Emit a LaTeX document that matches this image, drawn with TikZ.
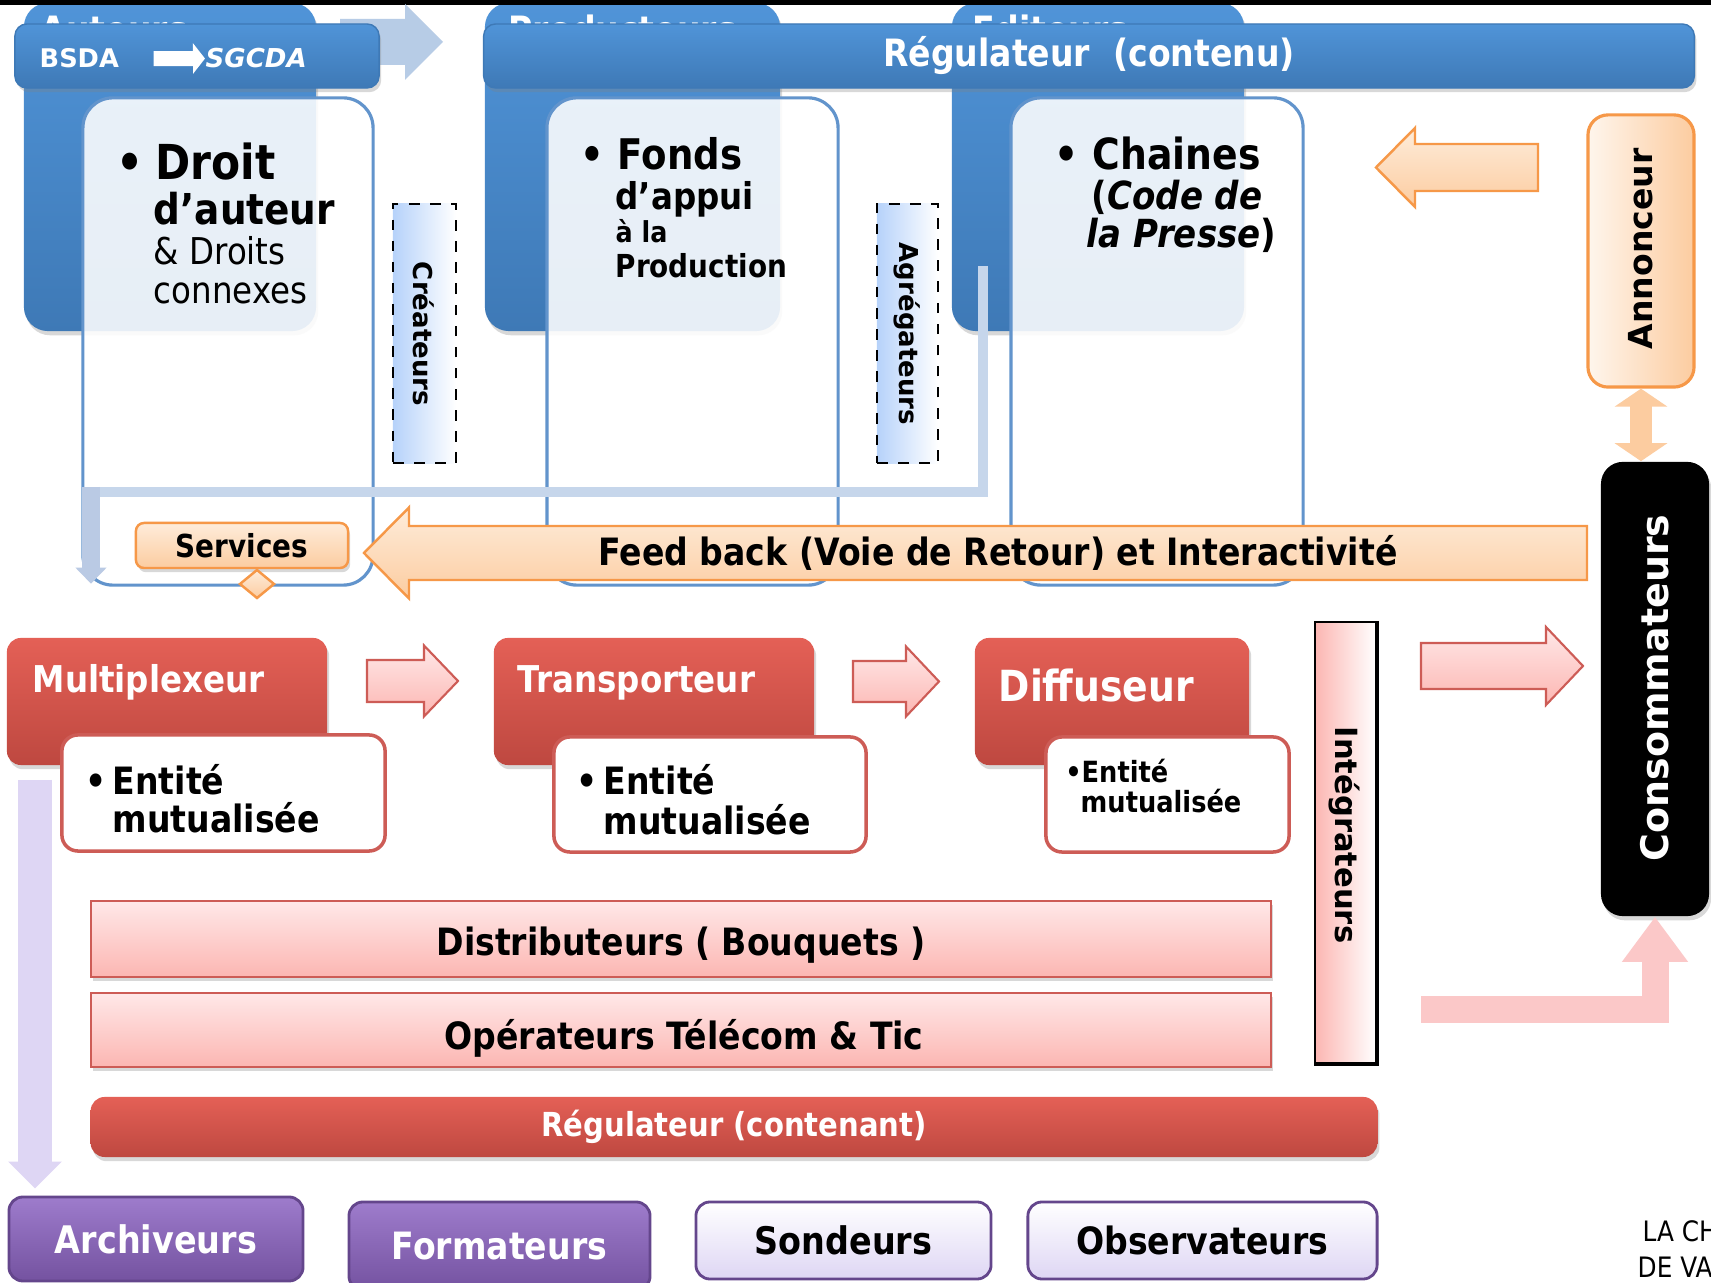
\documentclass[tikz,border=0pt]{standalone}
\usepackage{fontspec}
\setmainfont{DejaVu Sans}
\newfontfamily\tahoma{DejaVu Sans}[FakeStretch=0.88]
\usepackage{tikz}
\usetikzlibrary{arrows.meta,backgrounds,shadows}
\definecolor{bleuhaut}{RGB}{80,148,216}
\definecolor{bleubas}{RGB}{62,121,182}
\definecolor{bleucadre}{RGB}{98,148,204}
\definecolor{bleuclair}{RGB}{198,214,235}
\definecolor{bleugris}{RGB}{186,202,228}
\definecolor{bleupale}{RGB}{182,210,250}
\definecolor{rougehaut}{RGB}{228,96,86}
\definecolor{rougebas}{RGB}{190,72,64}
\definecolor{rougetrait}{RGB}{205,92,86}
\definecolor{rosehaut}{RGB}{255,232,232}
\definecolor{rosebas}{RGB}{252,182,178}
\definecolor{roseplein}{RGB}{251,200,200}
\definecolor{orangehaut}{RGB}{254,236,218}
\definecolor{orangebas}{RGB}{252,204,160}
\definecolor{orangetrait}{RGB}{246,152,72}
\definecolor{violethaut}{RGB}{158,124,204}
\definecolor{violetbas}{RGB}{116,82,160}
\definecolor{violettrait}{RGB}{100,70,140}
\definecolor{lavande}{RGB}{222,214,244}
\newcommand{\tah}[1]{\tahoma\bfseries\fontsize{#1}{#1}\selectfont}
\newcommand{\tahr}[1]{\tahoma\mdseries\fontsize{#1}{#1}\selectfont}
\newcommand{\ver}[1]{\bfseries\fontsize{#1}{#1}\selectfont}
\newcommand{\blocfleche}[7]{\path[#1] (#2,#5-#6) -- (#3,#5-#6) -- (#3,#5-#7) -- (#4,#5) -- (#3,#5+#7) -- (#3,#5+#6) -- (#2,#5+#6) -- cycle;}

\begin{document}
\begin{tikzpicture}[x=0.01cm,y=-0.01cm,
            every node/.style={inner sep=0pt},
            ombre/.style={drop shadow={opacity=0.3,shadow xshift=0.6pt,shadow yshift=-1.2pt}},
            bleu/.style={rounded corners=0.24cm,top color=bleuhaut,bottom color=bleubas,ombre},
            barre/.style={rounded corners=0.12cm,top color=bleuhaut,bottom color=bleubas,draw=bleubas,ombre},
            cadre/.style={rounded corners=0.3cm,draw=bleucadre,line width=0.9pt,fill=white,fill opacity=0.88},
            pointille/.style={draw,dashed,line width=0.6pt,left color=bleupale,right color=white},
            lien/.style={draw=bleuclair,line width=0.1cm},
            flecheorange/.style={top color=orangehaut,bottom color=orangebas,draw=orangetrait,line width=0.7pt},
            boiterouge/.style={rounded corners=0.14cm,top color=rougehaut,bottom color=rougebas,ombre},
            entite/.style={rounded corners=0.16cm,fill=white,draw=rougetrait,line width=1pt},
            flecherose/.style={top color=rosehaut,bottom color=rosebas,draw=rougetrait,line width=0.6pt},
            barrerose/.style={flecherose,ombre},
            boiteviolette/.style={rounded corners=0.14cm,top color=violethaut,bottom color=violetbas,draw=violettrait,line width=0.8pt,text=white},
            boitelavande/.style={rounded corners=0.14cm,top color=white,bottom color=lavande,draw=violettrait,line width=0.8pt}
            ]
            \useasboundingbox (0,0) rectangle (1711,1283);
            \clip (0,0) rectangle (1711,1283);

            % Background
            \begin{scope}[on background layer]
                \fill[white] (0,0) rectangle (1711,1283);
                \node[bleu,minimum width=2.92cm,minimum height=3.28cm] (auteurs)     at (170,167)   {};
                \node[bleu,minimum width=2.95cm,minimum height=3.28cm] (producteurs) at (632.5,167) {};
                \node[bleu,minimum width=2.92cm,minimum height=3.28cm] (editeurs)    at (1098,167)  {};
                \node[anchor=base west,text=white] (auteurs-t)     at (40,44)  {\tah{10.7}Auteurs};
                \node[anchor=base west,text=white] (producteurs-t) at (508,44) {\tah{10.7}Producteurs};
                \node[anchor=base west,text=white] (editeurs-t)    at (972,44) {\tah{10.7}Editeurs};
            \end{scope}
            \fill[black] (0,0) rectangle (1711,5);

            \blocfleche{fill=bleuclair!85!bleucadre}{340}{405}{443}{42}{23}{38}
            \node[barre,minimum width=3.64cm,minimum height=0.64cm] (bsda-barre) at (197,56) {};
            \node[anchor=base west,text=white] (bsda)  at (39,68)  {\ver{7.3}BSDA};
            \node[anchor=base west,text=white] (sgcda) at (205,68) {\ver{7.4}\itshape SGCDA};
            \draw[white,line width=0.15cm,-{Triangle[length=0.12cm,width=0.3cm]},shorten <=0.34cm] (bsda) -- (sgcda);
            \node[barre,minimum width=12.10cm,minimum height=0.64cm,text=white] (reg-contenu) at (1089,56) {\tah{10.7}Régulateur~~(contenu)};

            \node[cadre,minimum width=2.90cm,minimum height=4.87cm] (droit)   at (228,341.5)  {};
            \node[cadre,minimum width=2.91cm,minimum height=4.87cm] (fonds)   at (692.5,341.5) {};
            \node[cadre,minimum width=2.92cm,minimum height=4.87cm] (chaines) at (1157,341.5) {};

            \node[anchor=base west] (droit-p) at (116,180) {\tah{13.7}•};
            \node[anchor=base west] (droit-1) at (155,180) {\tah{13.7}Droit};
            \node[anchor=base west] (droit-2) at (153,225) {\tah{12.1}d’auteur};
            \node[anchor=base west] (droit-3) at (153,265) {\tahr{10.5}\& Droits};
            \node[anchor=base west] (droit-4) at (153,304) {\tahr{10.5}connexes};

            \node[anchor=base west] (fonds-p) at (580,170) {\tah{12}•};
            \node[anchor=base west] (fonds-1) at (617,170) {\tah{12}Fonds};
            \node[anchor=base west] (fonds-2) at (615,210) {\tah{10.5}d’appui};
            \node[anchor=base west] (fonds-3) at (615,243) {\tah{8.2}à la};
            \node[anchor=base west] (fonds-4) at (615,278) {\tah{9}Production};

            \node[anchor=base west] (chaines-p) at (1054,170) {\tah{12.2}•};
            \node[anchor=base west] (chaines-1) at (1092,170) {\tah{12.2}Chaines};
            \node[anchor=base west] (chaines-2) at (1091,210) {\tah{11}(\textit{Code de}};
            \node[anchor=base west] (chaines-3) at (1086,248) {\tah{11}\textit{la Presse})};

            \node[pointille,minimum width=0.63cm,minimum height=2.59cm] (createurs)   at (424.5,333.5) {};
            \node[rotate=-90] (createurs-t) at (423.5,334) {\ver{7.4}Créateurs};
            \node[pointille,minimum width=0.61cm,minimum height=2.59cm] (agregateurs) at (907.5,333.5) {};
            \node[rotate=-90] (agregateurs-t) at (907,334) {\ver{7.4}Agrégateurs};

            \coordinate (lien-depart) at (983,266);
            \coordinate (lien-coin)   at (91,492);
            \draw[lien] (lien-depart) |- (lien-coin);
            \draw[lien,draw=bleugris,line width=0.18cm,-{Triangle[length=0.16cm,width=0.3cm]},shorten >=0.03cm] ([yshift=0.05cm]lien-coin) -- (lien-coin |- droit.south);

            \blocfleche{flecheorange}{1587}{409}{364}{553}{27}{45.5}
            \node (retour) at (998,553) {\tah{10.7}Feed back (Voie de Retour) et Interactivité};

            \node[flecheorange,rounded corners=0.08cm,ombre,minimum width=2.12cm,minimum height=0.45cm] (services) at (242,545.5) {\tah{9}Services};
            \path[flecheorange] (257,570) -- (274,584) -- (257,598) -- (240,584) -- cycle;

            \node[left color=orangehaut!50!white,right color=orangebas,draw=orangetrait,line width=0.9pt,rounded corners=0.2cm,minimum width=1.06cm,minimum height=2.72cm] (annonceur) at (1641,251) {};
            \node[rotate=90] (annonceur-t) at (1641,249) {\ver{9.4}Annonceur};
            \blocfleche{flecheorange}{1538}{1415}{1376}{167.5}{23.5}{39.5}
            \node[fill=black,rounded corners=0.22cm,ombre,minimum width=1.08cm,minimum height=4.54cm] (consommateurs) at (1655,689) {};
            \node[rotate=90,text=white] (consommateurs-t) at (1655,688) {\ver{10.8}Consommateurs};
            \draw[draw=orangebas,line width=0.22cm,{Triangle[length=0.18cm,width=0.52cm]}-{Triangle[length=0.18cm,width=0.52cm]}] (annonceur.south) -- (annonceur.south |- consommateurs.north);

            \node[boiterouge,minimum width=3.20cm,minimum height=1.27cm] (multiplexeur) at (167,701.5)  {};
            \node[anchor=base west,text=white] (multiplexeur-t) at (32,693)  {\tah{10.5}Multiplexeur};
            \node[boiterouge,minimum width=3.20cm,minimum height=1.27cm] (transporteur) at (654,701.5)  {};
            \node[anchor=base west,text=white] (transporteur-t) at (517,693) {\tah{10.5}Transporteur};
            \node[boiterouge,minimum width=2.74cm,minimum height=1.27cm] (diffuseur)    at (1112,701.5) {};
            \node[anchor=base west,text=white] (diffuseur-t)    at (998,702) {\tah{12.2}Diffuseur};

            \node[entite,minimum width=3.23cm,minimum height=1.16cm] (entite-mux) at (223.5,793) {};
            \node[anchor=base west] (entite-mux-1) at (112,795) {\tah{10.7}\llap{•\hspace{0.06cm}}Entité};
            \node[anchor=base west] (entite-mux-2) at (112,833) {\tah{10.7}mutualisée};
            \node[entite,minimum width=3.12cm,minimum height=1.15cm] (entite-tra) at (710,794.5) {};
            \node[anchor=base west] (entite-tra-1) at (603,795) {\tah{10.7}\llap{•\hspace{0.06cm}}Entité};
            \node[anchor=base west] (entite-tra-2) at (603,835) {\tah{10.7}mutualisée};
            \node[entite,minimum width=2.43cm,minimum height=1.15cm] (entite-dif) at (1167.5,794.5) {};
            \node[anchor=base west] (entite-dif-1) at (1081,783) {\tah{8.3}\llap{•}Entité};
            \node[anchor=base west] (entite-dif-2) at (1080,813) {\tah{8.3}mutualisée};

            \blocfleche{flecherose}{367}{424}{458}{681}{21}{35.5}
            \blocfleche{flecherose}{853}{906}{939}{681.5}{20.5}{35}
            \blocfleche{flecherose}{1421}{1546}{1583}{666}{23}{39}

            \node[left color=rosebas,right color=white,draw=black,line width=0.6pt,minimum width=0.61cm,minimum height=4.41cm] (integrateurs) at (1345.5,842.5) {};
            \draw[line width=1.2pt] (integrateurs.north east) -- (integrateurs.south east) -- (integrateurs.south west);
            \node[rotate=-90] (integrateurs-t) at (1344,835) {\ver{8.7}Intégrateurs};

            \node[barrerose,minimum width=11.80cm,minimum height=0.76cm] (distributeurs) at (681,939)  {};
            \node (distributeurs-t) at (681,945) {\tah{10.7}Distributeurs ( Bouquets )};
            \node[barrerose,minimum width=11.80cm,minimum height=0.74cm] (operateurs)    at (681,1030) {};
            \node (operateurs-t) at (684,1038) {\tah{10.7}Opérateurs Télécom \& Tic};
            \node[boiterouge,minimum width=12.86cm,minimum height=0.60cm,text=white] (reg-contenant) at (734,1127) {\tah{9.4}Régulateur (contenant)};

            \coordinate (integration) at (1421,1009.5);
            \draw[draw=roseplein,line width=0.27cm,-{Triangle[length=0.45cm,width=0.63cm]}] (integration) -| (consommateurs.south);

            \node[boiteviolette,minimum width=2.94cm,minimum height=0.84cm] (archiveurs)   at (156,1239)    {\tah{10.8}Archiveurs};
            \node[boiteviolette,minimum width=3.01cm,minimum height=0.88cm] (formateurs)   at (499.5,1246)  {\tah{10.7}Formateurs};
            \node[boitelavande,minimum width=2.95cm,minimum height=0.77cm]  (sondeurs)     at (843.5,1240.5) {\tah{10.8}Sondeurs};
            \node[boitelavande,minimum width=3.49cm,minimum height=0.77cm]  (observateurs) at (1202.5,1240.5) {\tah{10.7}Observateurs};

            \coordinate (archive-depart) at (35,780);
            \draw[draw=lavande,line width=0.34cm,-{Triangle[length=0.27cm,width=0.52cm]},shorten >=0.07cm] (archive-depart) -- (archive-depart |- archiveurs.north);

            \node[anchor=base west] (note-1) at (1642,1242) {\tahr{8}LA CHAINE};
            \node[anchor=base west] (note-2) at (1637,1278) {\tahr{8}DE VALEUR};
\end{tikzpicture}
\end{document}
